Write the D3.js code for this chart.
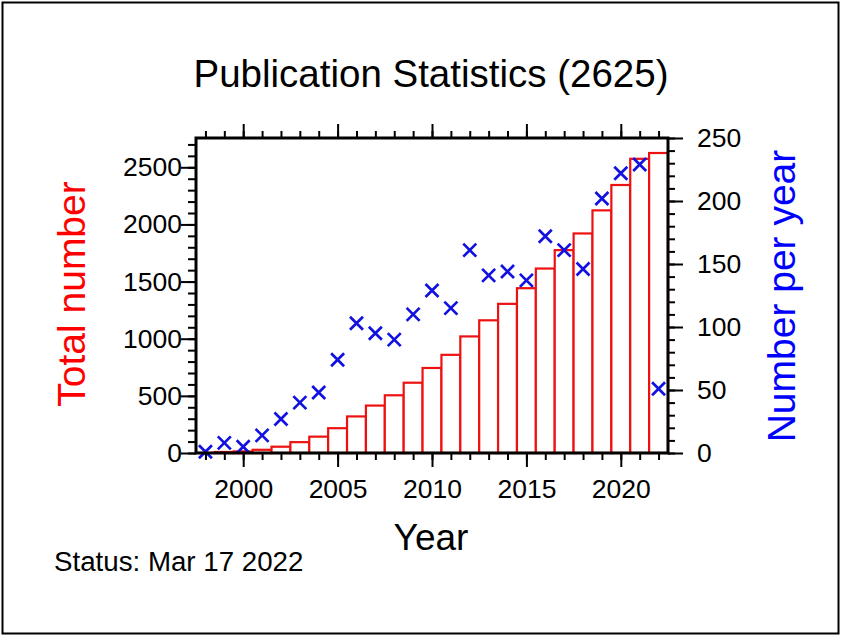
<!DOCTYPE html>
<html>
<head>
<meta charset="utf-8">
<script src="https://cdn.jsdelivr.net/npm/d3@7"></script>
<style>
  html, body { margin: 0; padding: 0; background: #fff; }
  svg { display: block; }
  text { font-family: "Liberation Sans", Arial, Helvetica, sans-serif; }
</style>
</head>
<body>
<svg id="chart" width="842" height="637"></svg>
<script>
// ---- data ----
const years = [1998, 1999, 2000, 2001, 2002, 2003, 2004, 2005, 2006, 2007, 2008, 2009, 2010,
               2011, 2012, 2013, 2014, 2015, 2016, 2017, 2018, 2019, 2020, 2021, 2022];
const perYear = [1, 8, 5, 14, 27, 40, 48, 74, 103, 95, 90, 110, 129,
                 115, 161, 141, 144, 137, 172, 161, 146, 202, 222, 229, 51];
const leftTicks = [0, 500, 1000, 1500, 2000, 2500];
const rightTicks = [0, 50, 100, 150, 200, 250];
const xTicks = [2000, 2005, 2010, 2015, 2020];
const titleText = "Publication Statistics (2625)";
const statusText = "Status: Mar 17 2022";

// cumulative totals
const totals = [];
perYear.reduce((acc, v, i) => { totals[i] = acc + v; return totals[i]; }, 0);
const grand = totals[totals.length - 1];

const svg = d3.select("#chart");
const L = 196, R = 668, T = 138, B = 453;

// outer frame
svg.append("rect").attr("x", 2.5).attr("y", 2.5).attr("width", 836).attr("height", 631)
  .attr("fill", "none").attr("stroke", "#000").attr("stroke-width", 2);

const x = d3.scaleLinear().domain([1997.5, 2022.5]).range([L, R]);
const yL = d3.scaleLinear().domain([0, grand * 1.05]).range([B, T]);
const yR = d3.scaleLinear().domain([0, 250]).range([B, T]);

// bars (cumulative)
svg.append("g").selectAll("rect").data(years).join("rect")
  .attr("x", d => x(d - 0.5))
  .attr("y", (d, i) => yL(totals[i]))
  .attr("width", d => x(d + 0.5) - x(d - 0.5))
  .attr("height", (d, i) => yL(0) - yL(totals[i]))
  .attr("fill", "#fff").attr("stroke", "#ee1111").attr("stroke-width", 2.2);

// crosses (per year)
const s = 6.5;
svg.append("g").selectAll("path").data(years).join("path")
  .attr("d", (d, i) => {
    const cx = x(d), cy = yR(perYear[i]);
    return `M${cx - s},${cy - s}L${cx + s},${cy + s}M${cx - s},${cy + s}L${cx + s},${cy - s}`;
  })
  .attr("stroke", "#1212e0").attr("stroke-width", 2.7).attr("fill", "none");

// axes
const tickStyle = g => {
  g.select(".domain").remove();
  g.selectAll(".tick line").attr("stroke", "#000").attr("stroke-width", 2);
  g.selectAll(".tick text").attr("font-size", 26.5).attr("fill", "#000")
    .attr("font-family", "Liberation Sans, Arial, sans-serif");
};
const minorX = d3.range(1998, 2023);
const minorL = d3.range(0, 2701, 100);
const minorR = d3.range(0, 251, 10);

// minor ticks
svg.append("g").attr("transform", `translate(0,${B})`)
  .call(d3.axisBottom(x).tickValues(minorX).tickSize(7).tickFormat("")).call(tickStyle);
svg.append("g").attr("transform", `translate(0,${T})`)
  .call(d3.axisTop(x).tickValues(minorX).tickSize(7).tickFormat("")).call(tickStyle);
svg.append("g").attr("transform", `translate(${L},0)`)
  .call(d3.axisLeft(yL).tickValues(minorL).tickSize(8).tickFormat("")).call(tickStyle);
svg.append("g").attr("transform", `translate(${R},0)`)
  .call(d3.axisRight(yR).tickValues(minorR).tickSize(7).tickFormat("")).call(tickStyle);

// major ticks with labels
svg.append("g").attr("transform", `translate(0,${B})`)
  .call(d3.axisBottom(x).tickValues(xTicks).tickSize(14).tickPadding(12).tickFormat(d3.format("d")))
  .call(tickStyle);
svg.append("g").attr("transform", `translate(0,${T})`)
  .call(d3.axisTop(x).tickValues(xTicks).tickSize(14).tickFormat(""))
  .call(tickStyle);
svg.append("g").attr("transform", `translate(${L},0)`)
  .call(d3.axisLeft(yL).tickValues(leftTicks).tickSize(15).tickPadding(-1).tickFormat(d3.format("d")))
  .call(tickStyle);
svg.append("g").attr("transform", `translate(${R},0)`)
  .call(d3.axisRight(yR).tickValues(rightTicks).tickSize(15).tickPadding(14).tickFormat(d3.format("d")))
  .call(tickStyle);

// plot frame
svg.append("rect").attr("x", L).attr("y", T).attr("width", R - L).attr("height", B - T)
  .attr("fill", "none").attr("stroke", "#000").attr("stroke-width", 3);

// titles
svg.append("text").attr("x", 431).attr("y", 87).attr("text-anchor", "middle")
  .attr("font-size", 38.5).attr("fill", "#000").text(titleText);
svg.append("text").attr("x", 431).attr("y", 550).attr("text-anchor", "middle")
  .attr("font-size", 37).attr("fill", "#000").text("Year");
svg.append("text").attr("transform", "translate(85,294) rotate(-90)").attr("text-anchor", "middle")
  .attr("font-size", 39).attr("fill", "#ff0000").text("Total number");
svg.append("text").attr("transform", "translate(795,296) rotate(-90)").attr("text-anchor", "middle")
  .attr("font-size", 39).attr("fill", "#0000ff").text("Number per year");
svg.append("text").attr("x", 54).attr("y", 571).attr("text-anchor", "start")
  .attr("font-size", 27.7).attr("fill", "#000").text(statusText);
</script>
</body>
</html>
